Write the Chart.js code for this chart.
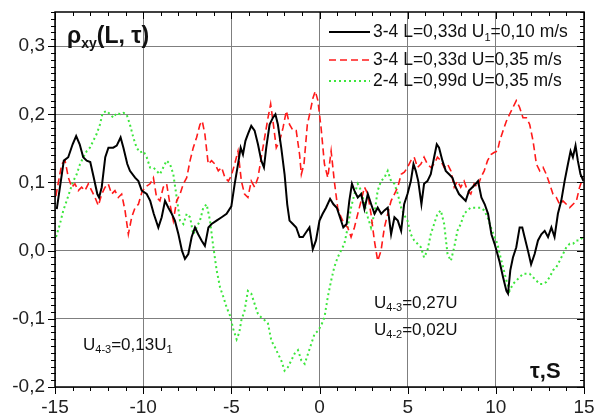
<!DOCTYPE html>
<html>
<head>
<meta charset="utf-8">
<script src="https://cdn.jsdelivr.net/npm/chart.js@4.4.1/dist/chart.umd.min.js"></script>
<style>
  html, body { margin: 0; padding: 0; background: #fff; }
  canvas { display: block; }
</style>
</head>
<body>
<canvas id="chart" width="597" height="418"></canvas>
<script>
// tau, s  /  rho_xy(L, tau)
const tauBlack = [-14.9,-14.5,-14.25,-14.0,-13.8,-13.6,-13.4,-13.2,-13.0,-12.8,-12.6,-12.5,-12.35,-12.15,-11.97,-11.7,-11.5,-11.28,-11.12,-10.9,-10.75,-10.46,-10.27,-10.08,-9.8,-9.6,-9.4,-9.14,-8.95,-8.76,-8.57,-8.38,-8.2,-8.0,-7.8,-7.63,-7.44,-7.25,-7.06,-6.88,-6.69,-6.5,-6.3,-6.12,-5.84,-5.55,-5.27,-5.0,-4.81,-4.62,-4.47,-4.34,-4.2,-4.06,-3.87,-3.68,-3.49,-3.3,-3.15,-3.02,-2.83,-2.64,-2.5,-2.36,-2.17,-1.98,-1.83,-1.7,-1.51,-1.32,-1.13,-0.94,-0.76,-0.57,-0.38,-0.2,0.0,0.18,0.37,0.6,0.79,0.98,1.16,1.35,1.54,1.69,1.84,1.98,2.17,2.36,2.55,2.74,2.93,3.12,3.3,3.5,3.68,3.87,4.06,4.25,4.44,4.63,4.8,4.99,5.18,5.33,5.46,5.6,5.78,5.93,6.12,6.31,6.5,6.65,6.78,6.97,7.16,7.35,7.54,7.72,7.91,8.1,8.29,8.48,8.67,8.86,8.99,9.18,9.37,9.56,9.75,9.93,10.2,10.41,10.6,10.69,10.82,10.97,11.16,11.35,11.5,11.63,11.82,12.0,12.2,12.39,12.58,12.77,12.96,13.15,13.33,13.52,13.71,13.9,14.09,14.24,14.37,14.52,14.65,14.8,14.97];
const rhoBlack = [0.061,0.132,0.137,0.156,0.168,0.156,0.137,0.132,0.130,0.107,0.083,0.078,0.093,0.137,0.151,0.151,0.154,0.166,0.151,0.127,0.117,0.107,0.102,0.088,0.083,0.073,0.054,0.034,0.049,0.073,0.063,0.054,0.044,0.024,0.0,-0.012,-0.005,0.02,0.034,0.024,0.015,0.007,0.034,0.039,0.044,0.049,0.054,0.065,0.098,0.127,0.151,0.141,0.161,0.171,0.183,0.176,0.156,0.132,0.122,0.151,0.185,0.195,0.2,0.185,0.151,0.112,0.068,0.044,0.039,0.034,0.02,0.02,0.027,0.034,0.002,0.015,0.044,0.054,0.063,0.076,0.068,0.063,0.049,0.034,0.039,0.073,0.098,0.088,0.078,0.083,0.061,0.083,0.068,0.054,0.063,0.054,0.059,0.063,0.024,0.049,0.044,0.029,0.068,0.083,0.102,0.127,0.117,0.102,0.068,0.098,0.102,0.112,0.137,0.156,0.151,0.132,0.117,0.112,0.107,0.093,0.083,0.078,0.073,0.088,0.093,0.098,0.102,0.078,0.068,0.054,0.024,0.01,-0.015,-0.039,-0.059,-0.063,-0.029,-0.01,0.005,0.034,0.034,0.02,0.0,-0.02,-0.005,0.015,0.024,0.029,0.02,0.034,0.02,0.054,0.073,0.102,0.127,0.146,0.137,0.154,0.132,0.112,0.102];

const tauRed = [-14.95,-14.62,-14.43,-14.24,-14.05,-13.87,-13.68,-13.49,-13.3,-13.11,-12.92,-12.73,-12.54,-12.35,-12.16,-11.98,-11.79,-11.6,-11.41,-11.22,-11.03,-10.84,-10.65,-10.46,-10.27,-10.08,-9.9,-9.61,-9.42,-9.24,-9.05,-8.86,-8.67,-8.48,-8.29,-8.1,-7.91,-7.72,-7.53,-7.34,-7.16,-6.97,-6.78,-6.65,-6.5,-6.31,-6.12,-5.93,-5.74,-5.55,-5.36,-5.17,-5.0,-4.81,-4.62,-4.43,-4.25,-4.06,-3.87,-3.68,-3.49,-3.3,-3.11,-2.92,-2.77,-2.64,-2.45,-2.26,-2.07,-1.88,-1.7,-1.5,-1.32,-1.13,-1.03,-0.88,-0.69,-0.56,-0.37,-0.24,-0.09,0.09,0.28,0.47,0.66,0.84,1.03,1.22,1.41,1.6,1.79,1.98,2.17,2.36,2.55,2.74,2.92,3.11,3.3,3.49,3.68,3.87,4.06,4.25,4.44,4.63,4.81,4.99,5.18,5.37,5.56,5.75,5.93,6.12,6.31,6.5,6.69,6.88,7.07,7.26,7.45,7.64,7.82,8.01,8.2,8.39,8.58,8.77,8.96,9.15,9.34,9.53,9.72,9.9,10.09,10.22,10.41,10.6,10.78,10.97,11.16,11.35,11.54,11.73,11.92,12.11,12.3,12.49,12.68,12.86,13.05,13.24,13.43,13.62,13.81,14.0,14.19,14.38,14.57,14.75,14.94];
const rhoRed = [0.08,0.127,0.132,0.107,0.093,0.098,0.088,0.093,0.088,0.098,0.088,0.078,0.066,0.083,0.093,0.098,0.083,0.088,0.078,0.083,0.059,0.024,0.049,0.063,0.068,0.085,0.093,0.098,0.107,0.078,0.073,0.093,0.098,0.068,0.044,0.073,0.083,0.098,0.107,0.132,0.151,0.166,0.185,0.19,0.171,0.127,0.132,0.127,0.117,0.122,0.107,0.102,0.11,0.127,0.146,0.102,0.083,0.078,0.102,0.093,0.107,0.137,0.166,0.195,0.215,0.19,0.151,0.161,0.18,0.205,0.185,0.176,0.176,0.141,0.112,0.127,0.185,0.2,0.224,0.234,0.22,0.18,0.127,0.107,0.146,0.102,0.063,0.049,0.039,0.034,0.02,0.034,0.054,0.073,0.093,0.083,0.054,0.015,-0.015,0.0,0.034,0.054,0.073,0.083,0.093,0.112,0.115,0.122,0.132,0.137,0.122,0.127,0.137,0.127,0.122,0.127,0.137,0.132,0.122,0.127,0.117,0.093,0.102,0.093,0.102,0.088,0.083,0.098,0.093,0.107,0.117,0.132,0.141,0.144,0.146,0.161,0.176,0.19,0.2,0.21,0.22,0.21,0.195,0.195,0.185,0.161,0.127,0.117,0.122,0.112,0.098,0.083,0.078,0.068,0.073,0.068,0.063,0.068,0.073,0.093,0.107];

const tauGreen = [-14.94,-14.72,-14.53,-14.34,-14.15,-13.96,-13.77,-13.58,-13.39,-13.2,-13.02,-12.83,-12.64,-12.45,-12.3,-12.07,-11.88,-11.69,-11.5,-11.31,-11.12,-10.94,-10.75,-10.56,-10.37,-10.18,-9.99,-9.8,-9.61,-9.42,-9.24,-9.05,-8.86,-8.67,-8.48,-8.29,-8.1,-7.91,-7.72,-7.53,-7.34,-7.16,-6.97,-6.78,-6.59,-6.4,-6.21,-6.02,-5.83,-5.64,-5.45,-5.27,-5.08,-4.89,-4.7,-4.55,-4.43,-4.25,-4.06,-3.87,-3.68,-3.49,-3.3,-3.11,-2.92,-2.73,-2.54,-2.36,-2.17,-1.98,-1.79,-1.6,-1.41,-1.22,-1.03,-0.84,-0.65,-0.47,-0.28,-0.1,0.09,0.28,0.47,0.66,0.84,1.03,1.22,1.41,1.6,1.79,1.98,2.17,2.36,2.55,2.74,2.92,3.11,3.3,3.49,3.68,3.87,4.06,4.25,4.44,4.63,4.81,4.99,5.18,5.37,5.56,5.75,5.93,6.12,6.31,6.5,6.69,6.88,7.07,7.26,7.45,7.64,7.82,8.01,8.2,8.39,8.58,8.77,8.96,9.15,9.34,9.53,9.72,9.9,10.09,10.22,10.41,10.6,10.78,10.97,11.16,11.35,11.54,11.73,11.92,12.11,12.3,12.49,12.68,12.86,13.05,13.24,13.43,13.62,13.81,14.0,14.19,14.38,14.57,14.75,14.94];
const rhoGreen = [0.02,0.039,0.059,0.073,0.088,0.102,0.112,0.127,0.137,0.146,0.151,0.161,0.171,0.185,0.202,0.205,0.2,0.195,0.202,0.2,0.202,0.2,0.185,0.166,0.151,0.144,0.146,0.137,0.122,0.122,0.117,0.112,0.122,0.132,0.127,0.112,0.078,0.044,0.039,0.054,0.049,0.024,0.034,0.044,0.063,0.068,0.044,0.005,-0.029,-0.054,-0.068,-0.083,-0.095,-0.115,-0.13,-0.12,-0.102,-0.088,-0.059,-0.063,-0.078,-0.093,-0.098,-0.102,-0.107,-0.132,-0.141,-0.151,-0.161,-0.176,-0.171,-0.161,-0.151,-0.146,-0.161,-0.166,-0.151,-0.137,-0.122,-0.118,-0.11,-0.098,-0.068,-0.044,-0.024,-0.01,0.0,0.01,0.034,0.063,0.083,0.098,0.088,0.068,0.049,0.034,0.054,0.088,0.102,0.107,0.117,0.102,0.098,0.083,0.063,0.052,0.044,0.024,0.015,0.01,0.005,-0.01,0.0,0.024,0.039,0.054,0.059,0.039,-0.005,-0.015,0.005,0.029,0.039,0.054,0.059,0.063,0.063,0.063,0.063,0.059,0.049,0.034,0.022,0.01,-0.005,-0.024,-0.044,-0.059,-0.049,-0.044,-0.039,-0.034,-0.034,-0.034,-0.039,-0.044,-0.049,-0.049,-0.046,-0.039,-0.029,-0.024,-0.015,-0.005,0.005,0.01,0.01,0.015,0.015,0.02];

// axis range and labels
const X_MIN = -15, X_MAX = 15, X_STEP = 5;
const Y_MIN = -0.2, Y_MAX = 0.35, Y_STEP = 0.1;

// legend and notes; 'sub' marks a subscript
const legendLabels = [
  [['3-4 L=0,33d U', ''], ['1', 'sub'], ['=0,10 m/s', '']],
  [['3-4 L=0,33d U=0,35 m/s', '']],
  [['2-4 L=0,99d U=0,35 m/s', '']]
];
const titleText = [['ρ', ''], ['xy', 'sub'], ['(L, τ)', '']];
const axisNote = [['τ,S', '']];
const noteLeft = [['U', ''], ['4-3', 'sub'], ['=0,13U', ''], ['1', 'sub']];
const noteRight1 = [['U', ''], ['4-3', 'sub'], ['=0,27U', '']];
const noteRight2 = [['U', ''], ['4-2', 'sub'], ['=0,02U', '']];

const FONT = 'Arial, "Liberation Sans", sans-serif';

function toPoints(xs, ys) {
  return xs.map((x, i) => ({ x: x, y: ys[i] }));
}

function drawRich(ctx, x, y, parts, size, bold) {
  let cx = x;
  for (const [txt, kind] of parts) {
    const fs = kind === 'sub' ? Math.round(size * 0.62) : size;
    ctx.font = (bold ? 'bold ' : '') + fs + 'px ' + FONT;
    ctx.fillText(txt, cx, kind === 'sub' ? y + size * 0.32 : y);
    cx += ctx.measureText(txt).width;
  }
}

const overlay = {
  id: 'overlay',
  afterDraw(chart) {
    const ctx = chart.ctx;
    const a = chart.chartArea;
    const xs = chart.scales.x, ys = chart.scales.y;
    ctx.save();

    // frame
    ctx.strokeStyle = '#000';
    ctx.lineWidth = 1.5;
    ctx.strokeRect(a.left, a.top, a.right - a.left, a.bottom - a.top);

    // minor / major ticks on all four sides
    ctx.lineWidth = 1;
    ctx.beginPath();
    for (let t = X_MIN; t <= X_MAX; t++) {
      const px = Math.round(xs.getPixelForValue(t)) + 0.5;
      const len = t % X_STEP === 0 ? 7 : 4;
      ctx.moveTo(px, a.bottom); ctx.lineTo(px, a.bottom + len);
      ctx.moveTo(px, a.top); ctx.lineTo(px, a.top + len);
    }
    for (let i = Math.round(Y_MIN * 100); i <= Math.round(Y_MAX * 100); i++) {
      const py = Math.round(ys.getPixelForValue(i / 100)) + 0.5;
      const len = i % 10 === 0 ? 7 : 4;
      ctx.moveTo(a.left - len, py); ctx.lineTo(a.left + 1, py);
      ctx.moveTo(a.right - len, py); ctx.lineTo(a.right, py);
    }
    ctx.stroke();

    // legend
    ctx.fillStyle = '#111';
    ctx.textBaseline = 'middle';
    const rows = [a.top + 20, a.top + 48, a.top + 69];
    chart.data.datasets.forEach((ds, i) => {
      ctx.beginPath();
      ctx.strokeStyle = ds.borderColor;
      ctx.lineWidth = ds.borderWidth;
      ctx.setLineDash(ds.borderDash || []);
      ctx.moveTo(a.left + 274, rows[i]);
      ctx.lineTo(a.left + 315, rows[i]);
      ctx.stroke();
      ctx.setLineDash([]);
      drawRich(ctx, a.left + 318, rows[i], legendLabels[i], 17.5, false);
    });

    // title and notes
    drawRich(ctx, a.left + 12, a.top + 25, titleText, 23, true);
    drawRich(ctx, a.left + 475, a.bottom - 15, axisNote, 22, true);
    drawRich(ctx, a.left + 28, a.bottom - 42, noteLeft, 17, false);
    drawRich(ctx, a.left + 319, a.bottom - 84, noteRight1, 17, false);
    drawRich(ctx, a.left + 319, a.bottom - 57, noteRight2, 17, false);
    ctx.restore();
  }
};

// tick marks are drawn by the overlay; Chart.js's own ones are kept invisible
// and give the label gap (ticks.padding would also widen the end margins)
const ctx = document.getElementById('chart').getContext('2d');
const chart = new Chart(ctx, {
  type: 'line',
  data: {
    datasets: [
      { label: '3-4 L=0,33d U1=0,10 m/s', data: toPoints(tauBlack, rhoBlack),
        borderColor: '#000000', borderWidth: 2 },
      { label: '3-4 L=0,33d U=0,35 m/s', data: toPoints(tauRed, rhoRed),
        borderColor: '#ff1a1a', borderWidth: 1.6, borderDash: [7, 4] },
      { label: '2-4 L=0,99d U=0,35 m/s', data: toPoints(tauGreen, rhoGreen),
        borderColor: '#3ce63c', borderWidth: 2, borderDash: [2, 3] }
    ]
  },
  options: {
    responsive: false,
    animation: false,
    devicePixelRatio: 1,
    layout: { padding: { top: 12, right: 13, left: 0, bottom: 0 } },
    elements: { point: { radius: 0 }, line: { tension: 0 } },
    plugins: { legend: { display: false }, tooltip: { enabled: false } },
    scales: {
      x: {
        type: 'linear', min: X_MIN, max: X_MAX,
        afterFit: s => { s.height = 31; },
        border: { display: false },
        grid: { color: '#7f7f7f', lineWidth: 1, drawTicks: true, tickLength: 9,
                tickColor: 'rgba(0,0,0,0)' },
        ticks: { stepSize: X_STEP, padding: 0, color: '#222',
                 font: { family: FONT, size: 19 },
                 callback: v => String(v) }
      },
      y: {
        type: 'linear', min: Y_MIN, max: Y_MAX,
        afterFit: s => { s.width = 55; },
        border: { display: false },
        grid: { color: '#7f7f7f', lineWidth: 1, drawTicks: true, tickLength: 10,
                tickColor: 'rgba(0,0,0,0)' },
        ticks: { stepSize: Y_STEP, includeBounds: false, padding: 0, color: '#222',
                 font: { family: FONT, size: 19 },
                 callback: v => v.toFixed(1).replace('.', ',') }
      }
    }
  },
  plugins: [overlay]
});
</script>
</body>
</html>
